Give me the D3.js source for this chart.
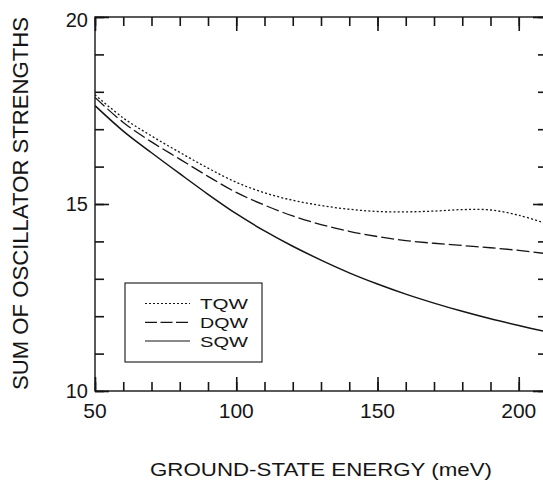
<!DOCTYPE html>
<html>
<head>
<meta charset="utf-8">
<script src="https://cdn.jsdelivr.net/npm/d3@7"></script>
<style>
  html, body { margin: 0; padding: 0; background: #fff; }
  svg { display: block; font-family: "Liberation Sans", Arial, Helvetica, sans-serif; }
</style>
</head>
<body>
<svg id="chart" width="543" height="481"></svg>
<script>
// Ground-state energy (meV) sample points
const energy = [50, 60, 70, 80, 90, 100, 110, 120, 130, 140, 150, 160, 170, 180, 190, 200, 210];

// Sum of oscillator strengths for triple, double and single quantum wells
const tqw = [17.92, 17.30, 16.82, 16.38, 15.96, 15.58, 15.30, 15.10, 14.96, 14.86, 14.80, 14.79, 14.81, 14.85, 14.84, 14.70, 14.47];
const dqw = [17.85, 17.18, 16.66, 16.20, 15.74, 15.31, 14.97, 14.68, 14.45, 14.27, 14.13, 14.02, 13.95, 13.89, 13.83, 13.76, 13.67];
const sqw = [17.63, 16.95, 16.37, 15.81, 15.26, 14.74, 14.28, 13.87, 13.50, 13.16, 12.86, 12.59, 12.35, 12.13, 11.93, 11.75, 11.58];

const seriesNames = ["TQW", "DQW", "SQW"];
const seriesDash = ["2,2.2", "13,4", null];

const xTickLabels = [50, 100, 150, 200];
const yTickLabels = [10, 15, 20];

const xTitle = "GROUND-STATE ENERGY (meV)";
const yTitle = "SUM OF OSCILLATOR STRENGTHS";

const ink = "#151515";
const svg = d3.select("#chart");

const x = d3.scaleLinear().domain([50, 210]).range([95, 547]);
const y = d3.scaleLinear().domain([10, 20]).range([391, 17]);

// Inward ticks on all four sides, built with d3 axes (minor every 10 meV / 1 unit, major every 50 / 5)
const xMinorTicks = d3.range(50, 211, 10);
const yMinorTicks = d3.range(10, 21, 1);
const xMajorTicks = xMinorTicks.filter(v => v % 50 === 0);
const yMajorTicks = yMinorTicks.filter(v => v % 5 === 0);

function drawTicks(axis, tx, ty) {
  const gA = svg.append("g")
    .attr("transform", `translate(${tx},${ty})`)
    .style("color", ink)
    .call(axis);
  gA.select(".domain").remove();
  gA.selectAll("text").remove();
  gA.selectAll("line").attr("stroke", ink).attr("stroke-width", 1.6);
}
[[xMinorTicks, 9], [xMajorTicks, 14]].forEach(([vals, len]) => {
  drawTicks(d3.axisBottom(x).tickValues(vals).tickSize(-len).tickFormat(""), 0, y(10));
  drawTicks(d3.axisTop(x).tickValues(vals).tickSize(-len).tickFormat(""), 0, y(20));
});
[[yMinorTicks, 9], [yMajorTicks, 14]].forEach(([vals, len]) => {
  drawTicks(d3.axisLeft(y).tickValues(vals).tickSize(-len).tickFormat(""), x(50), 0);
  drawTicks(d3.axisRight(y).tickValues(vals).tickSize(-len).tickFormat(""), x(210), 0);
});

// Frame
svg.append("rect")
  .attr("x", x(50)).attr("y", y(20))
  .attr("width", x(210) - x(50)).attr("height", y(10) - y(20))
  .attr("fill", "none").attr("stroke", ink).attr("stroke-width", 1.4);

// Tick labels
svg.append("g").selectAll("text").data(xTickLabels).join("text")
  .attr("x", d => x(d)).attr("y", 418)
  .attr("text-anchor", "middle").attr("font-size", 21).attr("fill", ink)
  .text(d => d);
svg.append("g").selectAll("text").data(yTickLabels).join("text")
  .attr("x", 88).attr("y", d => y(d) + (d === 20 ? 3 : 0))
  .attr("dy", "0.36em")
  .attr("text-anchor", "end").attr("font-size", 20).attr("fill", ink)
  .text(d => d);

// Axis titles
svg.append("text")
  .attr("x", 321).attr("y", 476)
  .attr("text-anchor", "middle").attr("font-size", 18.6).attr("fill", ink)
  .attr("textLength", 342).attr("lengthAdjust", "spacingAndGlyphs")
  .text(xTitle);
svg.append("text")
  .attr("transform", "translate(28.3,203.5) rotate(-90)")
  .attr("text-anchor", "middle").attr("font-size", 21.5).attr("fill", ink)
  .attr("textLength", 373).attr("lengthAdjust", "spacingAndGlyphs")
  .text(yTitle);

// Curves
svg.append("defs").append("clipPath").attr("id", "plotclip").append("rect")
  .attr("x", x(50)).attr("y", y(20)).attr("width", x(210) - x(50)).attr("height", y(10) - y(20));

const line = d3.line()
  .x((d, i) => x(energy[i]))
  .y(d => y(d))
  .curve(d3.curveCatmullRom.alpha(0.5));

const allSeries = [tqw, dqw, sqw];
const curves = svg.append("g").attr("clip-path", "url(#plotclip)");
allSeries.forEach((s, i) => {
  curves.append("path")
    .attr("d", line(s))
    .attr("fill", "none")
    .attr("stroke", ink)
    .attr("stroke-width", i === 2 ? 1.5 : 1.3)
    .attr("stroke-dasharray", seriesDash[i]);
});

// Legend
const lg = svg.append("g");
lg.append("rect")
  .attr("x", 125).attr("y", 283).attr("width", 137).attr("height", 79)
  .attr("fill", "#fff").attr("stroke", ink).attr("stroke-width", 1.1);
const rowY = [303.5, 322.3, 341];
const dashLegend = ["2,2", "12,3.5", null];
seriesNames.forEach((name, i) => {
  lg.append("line")
    .attr("x1", 145).attr("x2", 190).attr("y1", rowY[i]).attr("y2", rowY[i])
    .attr("stroke", ink).attr("stroke-width", i === 0 ? 1 : 1.2)
    .attr("stroke-dasharray", dashLegend[i]);
  lg.append("text")
    .attr("x", 200).attr("y", rowY[i] + 5.5)
    .attr("font-size", 15.5).attr("fill", ink)
    .attr("textLength", 48).attr("lengthAdjust", "spacingAndGlyphs")
    .text(name);
});
</script>
</body>
</html>
